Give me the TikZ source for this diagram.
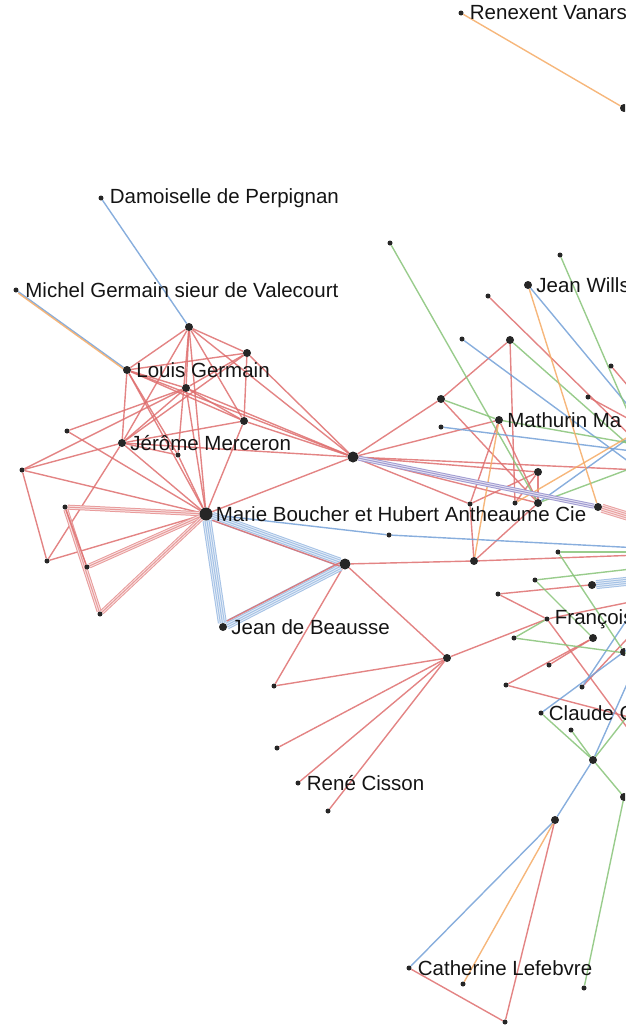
\documentclass[tikz,border=0pt]{standalone}
\usepackage{fontspec}
\setmainfont{Liberation Sans}
\usetikzlibrary{positioning}
\definecolor{edgered}{RGB}{222,110,110}
\definecolor{edgeblue}{RGB}{115,160,215}
\definecolor{edgegreen}{RGB}{135,195,120}
\definecolor{edgeorange}{RGB}{245,170,100}
\definecolor{dotgray}{RGB}{38,38,38}
\pgfdeclarelayer{edges}
\pgfsetlayers{edges,main}
\tikzset{
  dot/.style={circle,fill=dotgray,inner sep=0pt,minimum size=5pt},
  middot/.style={dot,minimum size=8pt},
  bigdot/.style={dot,minimum size=11pt},
  lbl/.style={inner sep=0pt,font=\fontsize{20.5}{24}\selectfont,text=black!92},
  redge/.style={draw=edgered,line width=1.4pt,opacity=.85},
  bedge/.style={draw=edgeblue,line width=1.4pt,opacity=.85},
  gedge/.style={draw=edgegreen,line width=1.4pt,opacity=.85},
  oedge/.style={draw=edgeorange,line width=1.4pt,opacity=.85},
}
% striped bundles of parallel links
\newcommand{\wideband}[3]{\foreach \lw/\tn in {9/65,7/20,5/65,3/20,1/65}{\draw[line width=\lw pt,#3!\tn] (#1) -- (#2);}}
\newcommand{\thinband}[3]{\foreach \lw/\tn in {5/70,3/20,1/70}{\draw[line width=\lw pt,#3!\tn] (#1) -- (#2);}}

\begin{document}
\begin{tikzpicture}[x=1pt,y=-1pt]
\useasboundingbox (0,0) rectangle (625,1028);
\clip (0,0) rectangle (625,1028);

% people
\foreach \n/\x/\y in {ren/461/13,dam/101/198,mic/16/290,g5/67/431,g6/178/455,g7/22/470,
  g8/65/507,g9/47/561,g10/87/567,g11/100/614,b1/389/535,n2/274/686,n3/277/748,cis/298/783,
  n4/328/811,t1/390/243,t2/560/255,t3/488/296,t4/462/339,t6/611/366,t8/588/397,t9/441/427,
  t11/470/504,t12/515/503,u1/558/552,u2/535/580,u4/498/594,fra/547/619,u5/514/638,
  u7/549/665,u8/506/685,u9/582/687,cla/541/713,u11/571/730,cat/409/968,v3/463/984,
  v4/505/1022,v5/584/988}
  \node[dot] (\n) at (\x,\y) {};
\foreach \n/\x/\y in {r1/624/108,g1/189/327,g2/247/353,lou/127/370,g3/186/388,g4/244/421,
  jer/122/443,jea/223/627,jwi/528/285,t5/510/340,t7/441/399,mat/499/420,t10/538/472,
  t13/538/503,t14/598/507,s1/474/561,n1/447/658,u3/592/585,u6/593/638,u10/624/652,
  u12/593/760,v1/555/820,v2/624/797}
  \node[middot] (\n) at (\x,\y) {};
\node[bigdot,minimum size=13pt] (mar) at (206,514) {};
\node[bigdot] (hub) at (353,457) {};
\node[bigdot] (m1) at (345,564) {};

% links leaving the frame
\foreach \n/\y in {o1/400,o2/420,o3/425,o4/430,o5/440,o6/445,o7/452,o8/455,o9/465,o10/470,
  o11/520,o12/548,o13/552,o14/555,o15/568,o16/580,o17/600,o18/625,o19/640,o20/655,
  o21/700,o22/720,o23/745}
  \coordinate (\n) at (640,\y);

\node[lbl,right=6pt of ren] (renlbl) {Renexent Vanars};
\node[lbl,right=6pt of dam] (damlbl) {Damoiselle de Perpignan};
\node[lbl,right=6.5pt of mic] (miclbl) {Michel Germain sieur de Valecourt};
\node[lbl,right=5pt of lou] (loulbl) {Louis Germain};
\node[lbl,right=4pt of jer] (jerlbl) {Jérôme Merceron};
\node[lbl,right=3pt of mar] (marlbl) {Marie Boucher et Hubert Antheaume Cie};
\node[lbl,right=4pt of jea] (jealbl) {Jean de Beausse};
\node[lbl,right=6pt of cis] (cislbl) {René Cisson};
\node[lbl,right=4pt of jwi] (jwilbl) {Jean Wills};
\node[lbl,right=4pt of mat] (matlbl) {Mathurin Ma};
\node[lbl,right=5pt of fra] (fralbl) {François};
\node[lbl,right=5pt of cla] (clalbl) {Claude C};
\node[lbl,right=6pt of cat] (catlbl) {Catherine Lefebvre};

\begin{pgfonlayer}{edges}
\foreach \a/\b in {g1/g2,g1/lou,g1/g3,g1/g4,g1/jer,g1/mar,g1/g6,g1/hub,g2/lou,g2/g3,g2/g4,
  g2/hub,g2/jer,lou/g3,lou/g4,lou/jer,lou/mar,lou/hub,lou/g6,g3/g4,g3/jer,g3/mar,g3/hub,
  g3/g5,g4/jer,g4/mar,g4/hub,g5/mar,jer/mar,jer/g7,jer/g9,jer/g6,jer/hub,g6/mar,g7/g3,
  g7/mar,g7/g9,g9/mar,mar/hub,m1/s1,s1/o14,m1/n1,m1/n2,n1/n2,n1/n3,n1/cis,n1/n4,n1/fra,
  hub/t7,hub/mat,hub/t10,hub/t11,hub/t13,hub/o10,s1/t11,s1/t13,t5/t7,t5/t12,t7/t13,
  mat/t11,mat/t13,t10/t11,t10/t12,t10/t13,t3/o6,t6/o1,t8/o3,u4/o16,u4/fra,fra/o17,
  fra/o23,u7/u6,u8/u6,u8/o22,u9/o18,v1/v4,cat/v4}
  \draw[redge] (\a) -- (\b);
\foreach \a/\b in {dam/g1,mic/lou,mar/b1,b1/o12,jwi/o2,t4/o10,t9/o7,t13/o4,cla/o19,
  u12/o20,v1/u12,v1/cat,u9/o17}
  \draw[bedge] (\a) -- (\b);
\foreach \a/\b in {t1/t13,t2/o5,t5/o8,t7/mat,mat/o6,t13/o9,u1/o13,u1/u10,u2/o15,u2/u6,
  u5/fra,u5/o20,cla/u12,u11/u12,u12/o21,u12/v2,v2/v5}
  \draw[gedge] (\a) -- (\b);
\foreach \a/\b in {ren/r1,jwi/t14,s1/mat,t12/o4,v1/v3}
  \draw[oedge] (\a) -- (\b);
\draw[oedge,transform canvas={yshift=-1.5pt}] (mic) -- (lou);
% bundles
\wideband{mar}{jea}{edgeblue}
\wideband{mar}{m1}{edgeblue}
\wideband{jea}{m1}{edgeblue}
\draw[redge,transform canvas={yshift=4pt}] (jea) -- (m1);
\draw[redge,transform canvas={yshift=-4pt}] (mar) -- (m1);
\thinband{hub}{t14}{edgeblue!70!violet}
\wideband{t14}{o11}{edgered}
\wideband{u3}{o16}{edgeblue}
\thinband{g8}{mar}{edgered}
\thinband{g8}{g11}{edgered}
\thinband{g10}{mar}{edgered}
\thinband{g11}{mar}{edgered}
\draw[redge] (g8) -- (g10);
\end{pgfonlayer}
\end{tikzpicture}
\end{document}
